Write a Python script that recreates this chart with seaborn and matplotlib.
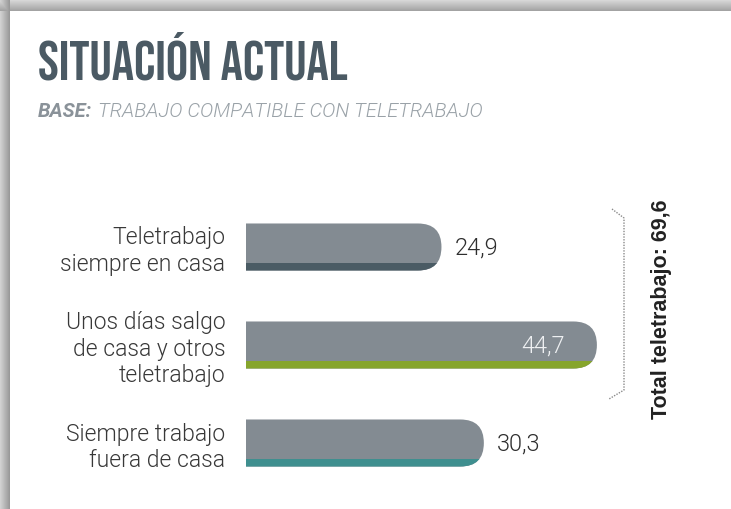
#!/usr/bin/env python3
"""
Situación actual: teletrabajo (barras horizontales redondeadas)
"""

import matplotlib
matplotlib.use('Agg')
import matplotlib.pyplot as plt
from matplotlib.patches import FancyBboxPatch, Rectangle
from matplotlib.lines import Line2D
import numpy as np
import seaborn as sns

# datos
categorias = ['Teletrabajo\nsiempre en casa',
              'Unos días salgo\nde casa y otros\nteletrabajo',
              'Siempre trabajo\nfuera de casa']
valores = [24.9, 44.7, 30.3]
etiquetas = ['24,9', '44,7', '30,3']
colores_franja = ['#4a5b64', '#86a52c', '#3f8f8f']
total_texto = 'Total teletrabajo: 69,6'

sns.set_theme(style='white')
plt.rcParams['font.family'] = ['Roboto', 'DejaVu Sans']
plt.rcParams['font.weight'] = 300

TITULO = ['Bebas Neue', 'Roboto Condensed', 'DejaVu Sans']
SUB = ['Roboto', 'DejaVu Sans']

W, H = 731, 509
fig = plt.figure(figsize=(W / 100, H / 100), dpi=100)
fig.patch.set_facecolor('white')

# sombra del marco (arriba e izquierda)
bg = fig.add_axes([0, 0, 1, 1], zorder=-5)
img = np.ones((H, W))
top = np.linspace(0.84, 0.64, 11)
img[:11, :] = np.minimum(img[:11, :], top[:, None])
left = np.linspace(0.82, 0.60, 10)
img[:, :10] = np.minimum(img[:, :10], left[None, :])
bg.imshow(img, cmap='gray', vmin=0, vmax=1, aspect='auto', interpolation='bilinear')
bg.axis('off')

# ejes principales
x0_px, x1_px = 246, 717
y0_px, y1_px = 198, 492
xmax = 60
ax = fig.add_axes([x0_px / W, 1 - y1_px / H, (x1_px - x0_px) / W, (y1_px - y0_px) / H])
ax.set_facecolor('none')

gris = '#838b92'
sns.barplot(x=valores, y=categorias, orient='h', color=gris, width=0.48,
            saturation=1, ax=ax)
ax.set_xlim(0, xmax)
ax.set_ylim(2.5, -0.5)

px_x = (x1_px - x0_px) / xmax
px_y = (y1_px - y0_px) / 3.0

for p, c in zip(list(ax.patches), colores_franja):
    bx, by, bw, bh = p.get_x(), p.get_y(), p.get_width(), p.get_height()
    p.remove()
    r_px = bh * px_y / 2
    rx = r_px / px_x
    ry = bh / 2
    caja = FancyBboxPatch((bx - 6, by), bw + 6, bh,
                          boxstyle=f'round,pad=0,rounding_size={rx}',
                          mutation_aspect=ry / rx, fc=gris, ec='none', zorder=2)
    ax.add_patch(caja)
    franja_h = 8 / px_y
    franja = Rectangle((0, by + bh - franja_h), bw + 1, franja_h, fc=c, ec='none', zorder=3)
    franja.set_clip_path(caja)
    ax.add_patch(franja)

# etiquetas de valor
for i, (v, t) in enumerate(zip(valores, etiquetas)):
    if v == max(valores):
        ax.text(v - 4.1, i + 0.01, t, ha='right', va='center', fontsize=17,
                color='#eef0f2', zorder=4)
    else:
        ax.text(v + 1.7, i + 0.01, t, ha='left', va='center', fontsize=17,
                color='#2e2e2e', zorder=4)

sns.despine(ax=ax, left=True, bottom=True)
ax.set_xticks([])
ax.set_ylabel('')
ax.set_xlabel('')
ax.tick_params(axis='y', length=0, pad=15)
for t in ax.get_yticklabels():
    t.set_fontsize(16.5)
    t.set_color('#383838')
    t.set_linespacing(1.2)

# título y subtítulo
fig.text(38 / W, 1 - 80 / H, 'SITUACIÓN ACTUAL', fontsize=40,
         color='#4b5a64', va='baseline', family=TITULO)
base = fig.text(38 / W, 1 - 117 / H, 'BASE:', fontsize=14.5, fontweight='bold', style='italic',
                color='#8a9299', va='baseline', family=SUB)
bg.annotate('TRABAJO COMPATIBLE CON TELETRABAJO', xy=(1, 0), xycoords=base,
            xytext=(4, 0), textcoords='offset points', fontsize=14.5, style='italic',
            fontweight=300, color='#9aa2a8', va='bottom', family=SUB)

# corchete punteado
pts = [(612, 209), (624, 218), (624, 390), (609, 399)]
fx = [x / W for x, _ in pts]
fy = [1 - y / H for _, y in pts]
fig.add_artist(Line2D(fx, fy, transform=fig.transFigure, color='#8a8a8a',
                      lw=1, linestyle=(0, (1, 1))))

fig.text(662 / W, 1 - 309 / H, total_texto, rotation=90, ha='center', va='center',
         fontsize=15.5, fontweight='bold', color='#222222',
         family=['Liberation Sans', 'DejaVu Sans'])

plt.savefig('out.png', dpi=100)
plt.close()
